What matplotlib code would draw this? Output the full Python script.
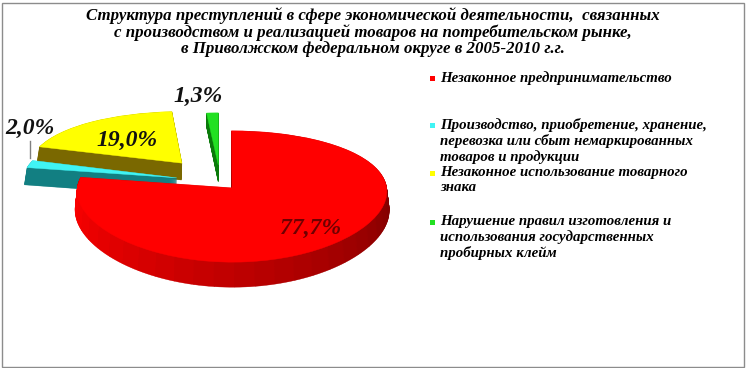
import numpy as np
import matplotlib.pyplot as plt
from matplotlib.patches import Wedge, Rectangle
from matplotlib.lines import Line2D
from matplotlib.transforms import Transform
from matplotlib.colors import to_rgb

title = ("Структура преступлений в сфере экономической деятельности,  связанных\n"
         "с производством и реализацией товаров на потребительском рынке,\n"
         "в Приволжском федеральном округе в 2005-2010 г.г.")
categories = ["Незаконное предпринимательство",
              "Производство, приобретение, хранение,\nперевозка или сбыт немаркированных\nтоваров и продукции",
              "Незаконное использование товарного\nзнака",
              "Нарушение правил изготовления и\nиспользования государственных\nпробирных клейм"]
shares = [77.7, 2.0, 19.0, 1.3]
value_labels = ["77,7%", "2,0%", "19,0%", "1,3%"]

top_colors = ["#ff0000", "#40f4f4", "#ffff00", "#22e022"]
side_colors = ["#ff0000", "#127f82", "#7a6800", "#0a7a0a"]
label_colors = ["#6e0000", "#111111", "#111111", "#111111"]
explode = [0.12, 0.29, 0.40, 0.28]

W, H = 746, 368
CX, CY, A, B = 220, 182, 154, 63     # pie centre and radii in pixels
KX, KY = 0.05, 0.13                   # perspective strength
DEPTH = 0.28                          # thickness in pie units
serif = dict(family="Liberation Serif", weight="bold", style="italic")


class Persp(Transform):
    # tilts the pie plane: the back is drawn smaller than the front
    input_dims = output_dims = 2

    def transform_non_affine(self, xy):
        xy = np.asarray(xy, dtype=float)
        y = xy[:, 1]
        return np.column_stack([xy[:, 0] / (1 + KX * y), y / (1 + KY * y)])


def fp(x, y):
    return x / W, 1 - y / H


fig = plt.figure(figsize=(W / 100, H / 100), dpi=100, facecolor="white")
ax = fig.add_axes([0, 0, 1, 1])
ax.set_xlim(-CX / A, (W - CX) / A)
ax.set_ylim((CY - H) / B, CY / B)
ax.axis("off")
tr = Persp() + ax.transData

# slice angles, clockwise from 12 o'clock
ends = 90 - np.cumsum(shares) * 3.6
starts = np.concatenate([[90], ends[:-1]])
mids = (starts + ends) / 2
centres = [(e * np.cos(np.radians(m)), e * np.sin(np.radians(m)))
           for e, m in zip(explode, mids)]


def shade(col, th):
    th = (th + 360) % 360
    f = 0.5 if th < 180 else 1.0 - 0.5 * (th - 180) / 180
    r, g, b = to_rgb(col)
    return (r * f, g * f, b * f)


nlay = 40
order = [3, 2, 1, 0]   # back to front
for i in order:
    cx, cy = centres[i]
    if i == 0:
        edges = np.linspace(ends[i], starts[i], 40)
        segs = [(edges[k], edges[k + 1], shade(side_colors[i], (edges[k] + edges[k + 1]) / 2))
                for k in range(len(edges) - 1)]
    else:
        segs = [(ends[i], starts[i], side_colors[i])]
    for k in range(nlay, 0, -1):
        dy = DEPTH * k / nlay
        for t1, t2, c in segs:
            ax.add_patch(Wedge((cx, cy - dy), 1, t1, t2, facecolor=c,
                               edgecolor=c, linewidth=0.3, transform=tr))

for i in order:
    cx, cy = centres[i]
    ax.add_patch(Wedge((cx, cy), 1, ends[i], starts[i], facecolor=top_colors[i],
                       edgecolor=top_colors[i], linewidth=0.3, transform=tr))

# value labels
fig.text(*fp(311, 228), value_labels[0], fontsize=17, color=label_colors[0],
         ha="center", va="center", **serif)
fig.text(*fp(127, 140), value_labels[2], fontsize=17, color=label_colors[2],
         ha="center", va="center", **serif)
fig.text(*fp(30, 128), value_labels[1], fontsize=17, color=label_colors[1],
         ha="center", va="center", **serif)
fig.text(*fp(198, 96), value_labels[3], fontsize=17, color=label_colors[3],
         ha="center", va="center", **serif)
fig.add_artist(Line2D([30 / W, 30 / W], [1 - 141 / H, 1 - 158 / H],
                      color="#808080", linewidth=1))

# title
fig.text(*fp(373, 32), title, fontsize=12.2, ha="center", va="center",
         linespacing=1.0, **serif)

# legend
leg_y = [78, 125, 173, 222]
for i, y in enumerate(leg_y):
    fig.add_artist(Rectangle(fp(430, y + 3), 5 / W, 5 / H, facecolor=top_colors[i],
                             edgecolor="none"))
    fig.text(*fp(440, y - 7), categories[i], fontsize=10.7, ha="left", va="top",
             linespacing=1.2, **serif)

fig.add_artist(Rectangle((1.5 / W, 1.5 / H), (W - 4) / W, (H - 4) / H,
                         facecolor="none", edgecolor="#8c8c8c", linewidth=1))

fig.savefig("out.png", dpi=100, facecolor="white")
